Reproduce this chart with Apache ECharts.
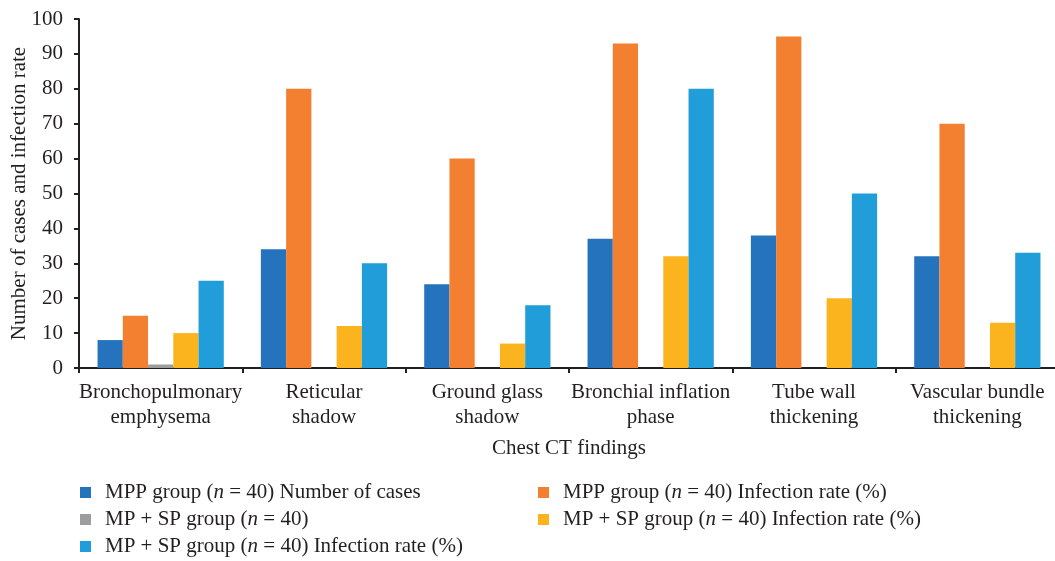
<!DOCTYPE html>
<html>
<head>
<meta charset="utf-8">
<script src="https://cdn.jsdelivr.net/npm/echarts@6/dist/echarts.min.js"></script>
<style>
  html, body { margin: 0; padding: 0; background: #fff; }
  #chart { width: 1055px; height: 561px; }
</style>
</head>
<body>
<div id="chart"></div>
<script>
// Chest CT findings by group
const categories = [
  'Bronchopulmonary\nemphysema',
  'Reticular\nshadow',
  'Ground glass\nshadow',
  'Bronchial inflation\nphase',
  'Tube wall\nthickening',
  'Vascular bundle\nthickening'
];
const mppCases = [8, 34, 24, 37, 38, 32];
const mppRate = [15, 80, 60, 93, 95, 70];
const mpspCases = [1, 0, 0, 0, 0, 0];
const mpspRateA = [10, 12, 7, 32, 20, 13];
const mpspRateB = [25, 30, 18, 80, 50, 33];

// the two MP + SP infection-rate series share a caption; a trailing space keeps the names distinct
const seriesNames = [
  'MPP group (n = 40) Number of cases',
  'MPP group (n = 40) Infection rate (%)',
  'MP + SP group (n = 40)',
  'MP + SP group (n = 40) Infection rate (%) ',
  'MP + SP group (n = 40) Infection rate (%)'
];
const seriesData = [mppCases, mppRate, mpspCases, mpspRateA, mpspRateB];
const colors = ['#2573bd', '#f37f30', '#9d9d9d', '#fbb41e', '#219dd9'];

const FONT = '"Liberation Serif", "DejaVu Serif", serif';
const INK = '#231f20';
const FS = 21;

const chart = echarts.init(document.getElementById('chart'));

const legendText = {
  fontFamily: FONT, fontSize: FS, color: INK,
  padding: [0, 0, 0, 9],
  rich: {
    n: { fontFamily: FONT, fontSize: FS, color: INK, fontStyle: 'italic' },
    t: { fontFamily: FONT, fontSize: FS, color: INK }
  }
};
// italicise the "n" in the group label
const legendFormatter = name => {
  const parts = name.trim().split('(n =');
  return '{t|' + parts[0] + '(}{n|n}{t| =' + parts[1] + '}';
};

// legend slots: [series index, left, top]
const legendSlots = [
  [0, 80, 482], [1, 538, 482],
  [2, 80, 509], [3, 538, 509],
  [4, 80, 536]
];

chart.setOption({
  animation: false,
  color: colors,
  textStyle: { fontFamily: FONT },
  // the last category runs past the right edge, so the grid is not shrunk to fit
  grid: {
    left: 79, top: 19, width: 980, height: 349,
    containLabel: false, outerBoundsMode: 'none'
  },
  legend: legendSlots.map(([i, left, top]) => ({
    data: [seriesNames[i]],
    left: left, top: top, padding: 0,
    itemWidth: 11, itemHeight: 11,
    icon: 'rect', textStyle: legendText, formatter: legendFormatter
  })),
  xAxis: {
    type: 'category',
    data: categories,
    name: 'Chest CT findings',
    nameLocation: 'middle',
    nameGap: 70,
    nameMoveOverlap: false,
    nameTextStyle: { fontFamily: FONT, fontSize: FS, color: INK },
    axisLine: { lineStyle: { color: INK, width: 2 } },
    axisTick: { show: true, length: 5, lineStyle: { color: INK, width: 2 } },
    axisLabel: {
      fontFamily: FONT, fontSize: FS, color: INK, lineHeight: 25,
      margin: 12, interval: 0
    }
  },
  yAxis: {
    type: 'value',
    min: 0, max: 100, interval: 10,
    name: 'Number of cases and infection rate',
    nameLocation: 'middle',
    nameGap: 49,
    nameMoveOverlap: false,
    nameTextStyle: { fontFamily: FONT, fontSize: FS, color: INK },
    axisLine: { show: true, lineStyle: { color: INK, width: 2 } },
    axisTick: { show: true, length: 5, lineStyle: { color: INK, width: 2 } },
    axisLabel: { fontFamily: FONT, fontSize: FS, color: INK, margin: 16 },
    splitLine: { show: false }
  },
  series: seriesNames.map((name, i) => ({
    name: name,
    type: 'bar',
    data: seriesData[i],
    barGap: '0%',
    barCategoryGap: '22.7%',
    itemStyle: { color: colors[i] }
  }))
});
</script>
</body>
</html>
